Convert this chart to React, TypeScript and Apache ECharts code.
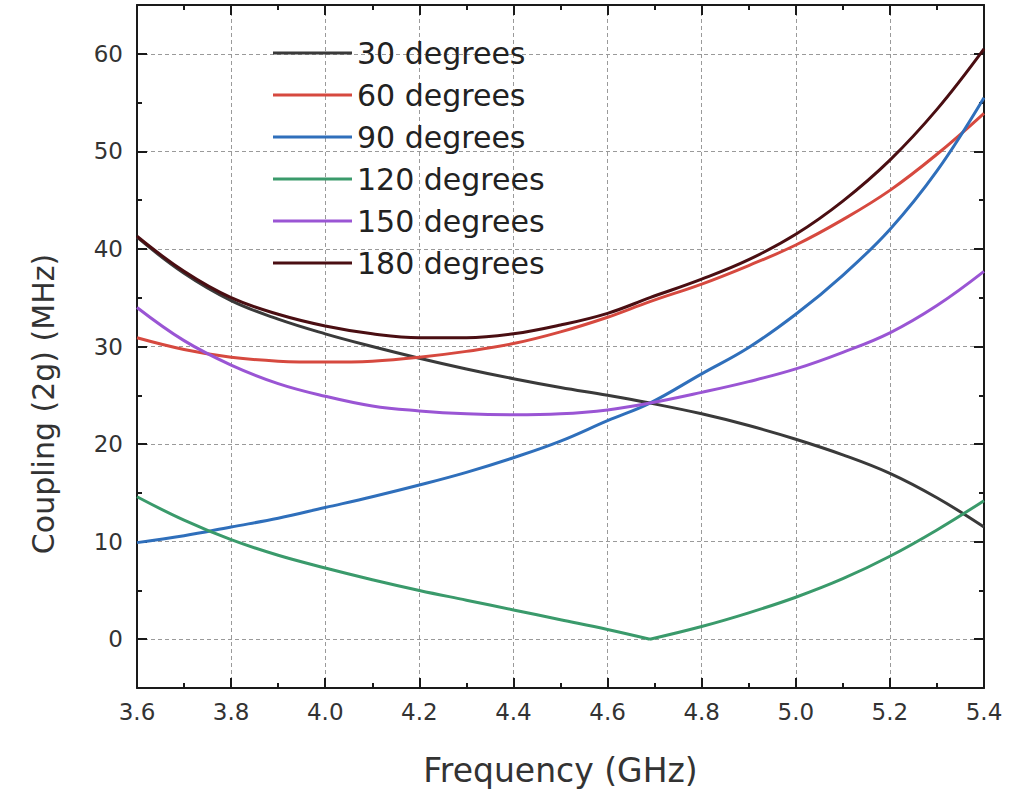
import React, { useEffect, useRef } from "react";
import * as echarts from "echarts";

const FONT = "DejaVu Sans";

const freq = [3.6, 3.7, 3.8, 3.9, 4.0, 4.1, 4.2, 4.3, 4.4, 4.5, 4.6, 4.69, 4.8, 4.9, 5.0, 5.1, 5.2, 5.3, 5.4];

const deg30 = [41.2, 37.5, 34.7, 32.8, 31.3, 30.0, 28.8, 27.7, 26.7, 25.8, 25.0, 24.2, 23.1, 21.9, 20.5, 18.9, 17.0, 14.5, 11.5];
const deg60 = [30.9, 29.7, 28.9, 28.5, 28.4, 28.5, 28.9, 29.5, 30.3, 31.5, 33.0, 34.6, 36.4, 38.3, 40.4, 43.0, 46.0, 49.7, 53.9];
const deg90 = [9.9, 10.6, 11.5, 12.4, 13.5, 14.6, 15.8, 17.1, 18.6, 20.3, 22.4, 24.2, 27.2, 29.9, 33.3, 37.3, 42.0, 48.0, 55.5];
const deg120 = [14.6, 12.2, 10.2, 8.6, 7.3, 6.1, 5.0, 4.0, 3.0, 2.0, 1.0, 0.0, 1.3, 2.7, 4.3, 6.2, 8.5, 11.2, 14.2];
const deg150 = [34.0, 30.6, 28.1, 26.2, 24.9, 23.9, 23.4, 23.1, 23.0, 23.1, 23.5, 24.2, 25.3, 26.4, 27.7, 29.4, 31.4, 34.2, 37.7];
const deg180 = [41.3, 37.7, 35.0, 33.3, 32.1, 31.3, 30.9, 30.9, 31.3, 32.2, 33.4, 35.0, 36.9, 38.9, 41.5, 44.9, 49.1, 54.3, 60.5];

const names = ["30 degrees", "60 degrees", "90 degrees", "120 degrees", "150 degrees", "180 degrees"];
const colors = ["#3a3a3a", "#d6493f", "#2f6fbb", "#3a9a6b", "#9a55d4", "#4a0e12"];
const values = [deg30, deg60, deg90, deg120, deg150, deg180];

const xTitle = "Frequency (GHz)";
const yTitle = "Coupling (2g) (MHz)";

const AX = "#1a1a1a";
const GRID = { left: 137, right: 47, top: 5, bottom: 109 };
const PLOT_W = 1031 - GRID.left - GRID.right;
const PLOT_H = 797 - GRID.top - GRID.bottom;

export default function App() {
  const ref = useRef<HTMLDivElement>(null);
  useEffect(() => {
    const chart = echarts.init(ref.current!, null, { renderer: "svg" });
    const pairs = (vals: number[]) => freq.map((f, i) => [f, vals[i]]);

    const series: any[] = [];
    values.forEach((vals, k) => {
      const base = {
        type: "line",
        name: names[k],
        symbol: "none",
        smooth: 0.4,
        color: colors[k],
        itemStyle: { color: colors[k] },
        lineStyle: { color: colors[k], width: 3 },
        z: 3,
      };
      if (k === 3) {
        // split at the cusp (minimum) so the V stays sharp
        let cusp = 0;
        vals.forEach((v, i) => { if (v < vals[cusp]) cusp = i; });
        const all = pairs(vals);
        series.push({ ...base, data: all.slice(0, cusp + 1) });
        series.push({ ...base, data: all.slice(cusp) });
      } else {
        series.push({ ...base, data: pairs(vals) });
      }
    });

    const split = { show: true, lineStyle: { color: "#9a9a9a", width: 1, type: [4, 3] } };
    const label = { fontFamily: FONT, fontSize: 23, color: "#333" };
    const tl = { color: AX, width: 2 };

    // tick-only axes placed on the opposite frame edge so that their outward ticks point into the plot
    const xTickAxis = (position: string) => ({
      type: "value",
      position,
      offset: -PLOT_H,
      min: 3.6,
      max: 5.4,
      interval: 0.2,
      axisLine: { show: false, onZero: false },
      axisTick: { show: true, inside: false, length: 10, lineStyle: tl },
      minorTick: { show: true, splitNumber: 2, length: 5, lineStyle: tl },
      axisLabel: { show: false },
      splitLine: { show: false },
    });
    const yTickAxis = (position: string, major: boolean) => ({
      type: "value",
      position,
      offset: -PLOT_W,
      min: -5,
      max: 65,
      ...(major ? { splitNumber: 7 } : { interval: 10 }),
      axisLine: { show: false, onZero: false },
      axisTick: { show: true, inside: false, length: major ? 10 : 5, lineStyle: tl },
      axisLabel: { show: false },
      splitLine: { show: false },
    });

    const option: any = {
      animation: false,
      backgroundColor: "#fff",
      grid: { ...GRID, containLabel: false },
      legend: {
        data: names,
        orient: "vertical",
        left: 273,
        top: 38,
        padding: 0,
        icon: "rect",
        itemWidth: 79,
        itemHeight: 3,
        itemGap: 12,
        textStyle: { fontFamily: FONT, fontSize: 30, color: "#222" },
      },
      graphic: [
        {
          type: "text",
          x: 43,
          y: 404,
          rotation: Math.PI / 2,
          style: {
            text: yTitle,
            fontFamily: FONT,
            fontSize: 30,
            fill: "#333",
            align: "center",
            verticalAlign: "middle",
          },
        },
      ],
      xAxis: [
        {
          type: "value",
          position: "bottom",
          min: 3.6,
          max: 5.4,
          interval: 0.2,
          axisLine: { show: true, onZero: false, lineStyle: tl },
          axisTick: { show: false },
          axisLabel: { ...label, margin: 12, formatter: (v: number) => v.toFixed(1) },
          splitLine: split,
          name: xTitle,
          nameLocation: "middle",
          nameGap: 66,
          nameTextStyle: { fontFamily: FONT, fontSize: 33, color: "#333" },
        },
        {
          type: "value",
          position: "top",
          min: 3.6,
          max: 5.4,
          interval: 0.2,
          axisLine: { show: true, onZero: false, lineStyle: tl },
          axisTick: { show: false },
          axisLabel: { show: false },
          splitLine: { show: false },
        },
        xTickAxis("top"),
        xTickAxis("bottom"),
      ],
      yAxis: [
        {
          type: "value",
          position: "left",
          min: -5,
          max: 65,
          splitNumber: 7,
          axisLine: { show: true, onZero: false, lineStyle: tl },
          axisTick: { show: false },
          axisLabel: {
            ...label,
            margin: 14,
            showMinLabel: false,
            showMaxLabel: false,
            formatter: (v: number) => (v % 10 === 0 ? String(v) : ""),
          },
          splitLine: split,
        },
        {
          type: "value",
          position: "right",
          min: -5,
          max: 65,
          splitNumber: 7,
          axisLine: { show: true, onZero: false, lineStyle: tl },
          axisTick: { show: false },
          axisLabel: { show: false },
          splitLine: { show: false },
        },
        yTickAxis("right", true),
        yTickAxis("left", true),
        yTickAxis("right", false),
        yTickAxis("left", false),
      ],
      series,
    };
    chart.setOption(option);
    return () => chart.dispose();
  }, []);
  return (
    <div
      ref={ref}
      style={{ position: "fixed", left: 0, top: 0, width: 1031, height: 797, background: "#fff" }}
    />
  );
}
